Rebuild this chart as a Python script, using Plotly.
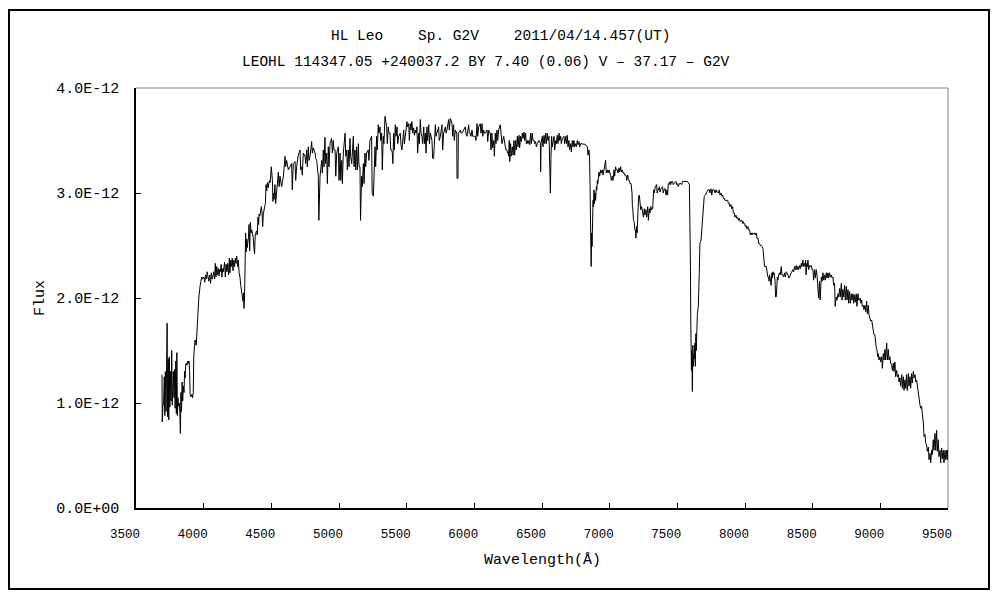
import plotly.graph_objects as go

# ---------------- data (wavelength in Angstrom, flux in units of 1E-12) ----------------
wl_a = [3692, 3694, 3699, 3704, 3709, 3713, 3717, 3722, 3726, 3730,
        3733, 3738, 3742, 3746, 3750, 3755, 3759, 3764, 3768, 3772,
        3776, 3781, 3785, 3789, 3794, 3798, 3802, 3806, 3810, 3815,
        3820, 3824, 3828, 3832, 3836, 3841, 3845, 3850, 3855, 3859,
        3863, 3867, 3872, 3877, 3882, 3887, 3892, 3896, 3900, 3906,
        3912, 3918, 3923, 3927, 3932, 3936, 3940, 3945, 3949, 3953,
        3958, 3964, 3969, 3974, 3980, 3986, 3991]
fx_a = [1.27, 0.82, 0.97, 1.00, 1.25, 0.88, 1.30, 0.92, 1.35, 1.76,
        0.87, 1.42, 0.84, 1.44, 0.96, 1.30, 1.02, 1.50, 0.98, 1.12,
        1.30, 1.05, 1.32, 0.95, 1.40, 0.90, 1.48, 0.88, 1.05, 0.97,
        1.00, 0.90, 0.71, 1.10, 0.92, 1.20, 1.02, 1.16, 1.10, 1.30,
        1.24, 1.36, 1.38, 1.36, 1.40, 1.38, 1.40, 1.30, 1.08, 1.06,
        1.08, 1.05, 1.10, 1.45, 1.52, 1.60, 1.58, 1.55, 1.62, 1.75,
        1.86, 2.00, 2.08, 2.12, 2.16, 2.20, 2.18]

wl_b = [4002, 4008, 4014, 4020, 4026, 4032, 4038, 4045, 4051, 4057,
        4063, 4069, 4075, 4081, 4086, 4091, 4097, 4103, 4109, 4114,
        4118, 4123, 4129, 4135, 4140, 4145, 4150, 4155, 4160, 4166,
        4172, 4178, 4184, 4190, 4194, 4200, 4205, 4211, 4217, 4222,
        4228, 4234, 4239, 4244, 4250, 4256, 4262, 4268, 4274, 4279,
        4284, 4290, 4294, 4298, 4302, 4306, 4310, 4314, 4318, 4322,
        4327, 4331, 4335, 4340, 4345, 4350, 4355, 4360, 4366, 4371,
        4376, 4381, 4386, 4391, 4396, 4401, 4406, 4410, 4415, 4420,
        4426, 4431, 4436, 4441, 4446, 4451, 4456, 4461, 4466, 4471,
        4476, 4481, 4486, 4491, 4496, 4500, 4504, 4508, 4512, 4516,
        4520]
fx_b = [2.20, 2.15, 2.22, 2.18, 2.25, 2.20, 2.16, 2.22, 2.14, 2.24,
        2.18, 2.21, 2.25, 2.18, 2.33, 2.20, 2.30, 2.22, 2.28, 2.21,
        2.27, 2.25, 2.32, 2.20, 2.28, 2.25, 2.30, 2.34, 2.20, 2.32,
        2.25, 2.33, 2.22, 2.38, 2.24, 2.36, 2.30, 2.38, 2.26, 2.36,
        2.30, 2.38, 2.33, 2.40, 2.30, 2.36, 2.24, 2.20, 2.12, 2.08,
        2.05, 1.97, 2.05, 1.90, 2.00, 2.24, 2.62, 2.44, 2.56, 2.48,
        2.52, 2.58, 2.70, 2.45, 2.72, 2.62, 2.65, 2.62, 2.58, 2.48,
        2.42, 2.60, 2.62, 2.64, 2.60, 2.77, 2.70, 2.80, 2.78, 2.84,
        2.87, 2.82, 2.68, 2.80, 2.86, 2.87, 2.90, 3.08, 3.02, 3.10,
        3.05, 3.08, 3.12, 3.10, 3.22, 3.25, 3.18, 3.12, 2.92, 3.00,
        2.94]

wl_c = [4527, 4532, 4540, 4545, 4552, 4557, 4564, 4576, 4589, 4601, 4606,
        4613, 4626, 4638, 4650, 4655, 4662, 4675, 4680, 4687, 4699,
        4712, 4717, 4724, 4729, 4736, 4749, 4754, 4761, 4766, 4773, 4778,
        4786, 4798, 4803, 4810, 4823, 4828, 4835, 4847, 4851, 4860,
        4872, 4877, 4884, 4889, 4896, 4901, 4909, 4914, 4921, 4926, 4934,
        4946, 4951, 4958, 4963, 4971, 4976, 4983, 4995, 5000, 5008, 5013,
        5020, 5025, 5032, 5045, 5050, 5057, 5062, 5069, 5074, 5081, 5086,
        5094, 5106, 5111, 5118, 5123, 5130, 5135, 5143, 5148, 5155, 5159,
        5167, 5172, 5180, 5185, 5192, 5197, 5204, 5216, 5221, 5229,
        5241, 5245, 5254, 5266, 5271, 5278, 5283, 5290, 5295, 5303, 5308,
        5315, 5320, 5327, 5332, 5340, 5352, 5357, 5364, 5369, 5377, 5382, 5389]
fx_c = [3.08, 2.90, 3.03, 3.12, 3.20, 3.06, 3.16, 3.06, 3.16, 3.35, 3.25,
        3.31, 3.22, 3.25, 3.28, 3.03, 3.28, 3.30, 3.12, 3.25, 3.36,
        3.41, 3.22, 3.25, 3.17, 3.38, 3.35, 3.28, 3.41, 3.25, 3.44, 3.31,
        3.35, 3.49, 3.38, 3.43, 3.38, 3.33, 3.31, 3.16, 2.74, 3.16,
        3.31, 3.19, 3.41, 3.25, 3.53, 3.28, 3.38, 3.09, 3.44, 3.25, 3.47,
        3.52, 3.38, 3.50, 3.41, 3.41, 3.16, 3.38, 3.44, 3.12, 3.38, 3.12,
        3.31, 3.09, 3.38, 3.57, 3.35, 3.41, 3.22, 3.41, 3.25, 3.52, 3.35,
        3.28, 3.54, 3.25, 3.41, 3.22, 3.44, 3.22, 3.47, 3.25, 3.25, 2.74,
        3.16, 3.06, 3.28, 3.09, 3.38, 3.25, 3.38, 3.41, 3.31, 3.50,
        3.54, 3.00, 2.97, 3.44, 3.25, 3.54, 3.41, 3.65, 3.57, 3.63, 3.50,
        3.57, 3.22, 3.54, 3.47, 3.73, 3.63, 3.47, 3.63, 3.57, 3.57, 3.41, 3.41]

wl_d = [5394, 5398, 5404, 5409, 5416, 5421, 5429, 5434, 5441, 5453, 5458,
        5465, 5478, 5483, 5490, 5502, 5507, 5515, 5520, 5527, 5532,
        5539, 5544, 5552, 5557, 5564, 5569, 5576, 5581, 5589, 5594,
        5601, 5606, 5613, 5618, 5626, 5631, 5638, 5643, 5650, 5655,
        5663, 5668, 5675, 5687, 5692, 5699, 5712, 5717, 5724,
        5736, 5741, 5749, 5761, 5766, 5773, 5786, 5791, 5798,
        5810, 5815, 5823, 5835, 5840, 5847, 5852, 5860,
        5870, 5872, 5879, 5882, 5897, 5902, 5909, 5921, 5933, 5938,
        5946, 5958, 5963, 5970, 5975, 5983, 5988, 5995, 6007, 6012,
        6020, 6025, 6032, 6044, 6049, 6057, 6062, 6069, 6074, 6081,
        6094, 6099, 6106, 6111, 6118, 6123, 6130, 6135, 6143, 6148,
        6155, 6160, 6167, 6172, 6180, 6192, 6197, 6204, 6217, 6222,
        6229, 6234, 6241, 6246, 6250, 6254]
fx_d = [3.38, 3.28, 3.57, 3.41, 3.65, 3.54, 3.63, 3.47, 3.54, 3.57, 3.46,
        3.41, 3.60, 3.47, 3.54, 3.68, 3.63, 3.66, 3.50, 3.66, 3.60,
        3.68, 3.57, 3.62, 3.55, 3.60, 3.57, 3.63, 3.38, 3.57, 3.47,
        3.70, 3.57, 3.54, 3.47, 3.63, 3.47, 3.57, 3.38, 3.63, 3.50,
        3.65, 3.47, 3.57, 3.50, 3.33, 3.33, 3.65, 3.54, 3.57,
        3.63, 3.50, 3.54, 3.65, 3.41, 3.57, 3.63, 3.57, 3.60,
        3.70, 3.60, 3.71, 3.66, 3.54, 3.65, 3.50, 3.60,
        3.57, 3.14, 3.14, 3.57, 3.60, 3.57, 3.57, 3.60, 3.63, 3.57,
        3.54, 3.65, 3.57, 3.57, 3.54, 3.60, 3.54, 3.54, 3.54, 3.50,
        3.66, 3.54, 3.63, 3.66, 3.57, 3.66, 3.54, 3.60, 3.57, 3.57,
        3.60, 3.49, 3.60, 3.57, 3.57, 3.41, 3.57, 3.43, 3.50, 3.35,
        3.57, 3.47, 3.60, 3.50, 3.60, 3.65, 3.54, 3.47, 3.54, 3.47,
        3.44, 3.41, 3.41, 3.38, 3.39, 3.35]

wl_e = [6258, 6262, 6268, 6273, 6281, 6286, 6293, 6298, 6305, 6310,
        6318, 6323, 6330, 6335, 6342, 6347, 6355, 6360, 6367, 6372,
        6379, 6384, 6391, 6396, 6404, 6409, 6416, 6421, 6428, 6433,
        6441, 6446, 6453, 6458, 6465, 6478, 6488, 6490, 6493, 6502,
        6507, 6515, 6520, 6527, 6532, 6539, 6544, 6552, 6556, 6560,
        6562, 6566, 6571, 6576, 6589, 6594, 6601, 6606, 6613, 6618,
        6626, 6631, 6638, 6643, 6650, 6662, 6667, 6675, 6680, 6687,
        6692, 6699, 6704, 6712, 6717, 6724, 6729, 6736, 6741, 6749,
        6754, 6761, 6766, 6773, 6778, 6786, 6798, 6803, 6810, 6815,
        6822, 6835, 6840, 6847, 6851, 6855, 6860, 6863, 6867, 6870,
        6877, 6880, 6884, 6888, 6892, 6896, 6902, 6905, 6909, 6913,
        6921, 6926, 6934, 6939, 6946, 6951, 6958, 6970, 6975, 6983,
        6988, 6995, 7000, 7007, 7012, 7020, 7025, 7032, 7037, 7044,
        7049, 7057, 7062, 7069, 7074, 7081, 7086, 7094, 7099, 7106,
        7111, 7118]
fx_e = [3.50, 3.30, 3.47, 3.35, 3.44, 3.36, 3.50, 3.36, 3.50, 3.41,
        3.54, 3.44, 3.55, 3.43, 3.54, 3.49, 3.57, 3.52, 3.58, 3.50,
        3.57, 3.47, 3.50, 3.47, 3.50, 3.46, 3.57, 3.47, 3.57, 3.50,
        3.50, 3.47, 3.49, 3.44, 3.47, 3.50, 3.47, 3.20, 3.47, 3.54,
        3.44, 3.55, 3.47, 3.57, 3.47, 3.57, 3.50, 3.54, 3.35, 3.33,
        3.00, 3.33, 3.54, 3.44, 3.54, 3.41, 3.50, 3.47, 3.55, 3.47,
        3.57, 3.50, 3.54, 3.47, 3.52, 3.54, 3.47, 3.54, 3.47, 3.55,
        3.44, 3.50, 3.41, 3.47, 3.39, 3.50, 3.44, 3.50, 3.44, 3.47,
        3.44, 3.50, 3.46, 3.49, 3.44, 3.47, 3.47, 3.46, 3.47, 3.46,
        3.46, 3.44, 3.36, 3.41, 3.36, 3.08, 2.60, 2.30, 2.62, 2.49,
        2.93, 2.87, 3.03, 2.90, 3.00, 2.93, 3.06, 3.03, 3.12, 3.09,
        3.20, 3.16, 3.22, 3.19, 3.22, 3.17, 3.22, 3.31, 3.19, 3.22,
        3.19, 3.22, 3.20, 3.17, 3.12, 3.16, 3.12, 3.22, 3.16, 3.25,
        3.22, 3.22, 3.19, 3.24, 3.20, 3.25, 3.20, 3.22, 3.19, 3.19,
        3.17, 3.17]

wl_f = [7121, 7126, 7133, 7138, 7145, 7150, 7158, 7162, 7165, 7168,
        7170, 7176, 7182, 7186, 7190, 7194, 7199, 7203, 7207, 7211,
        7214, 7219, 7222, 7226, 7230, 7236, 7240, 7244, 7249, 7256,
        7261, 7268, 7273, 7281, 7286, 7293, 7298, 7305, 7310, 7318,
        7325, 7330, 7337, 7347, 7351, 7359, 7363, 7367, 7372, 7379,
        7391, 7396, 7404, 7411, 7416, 7424, 7428, 7433, 7438, 7446,
        7451, 7458, 7465, 7470, 7478, 7490, 7495, 7502, 7507, 7515,
        7527, 7532, 7539, 7552, 7564, 7576, 7589, 7594, 7597, 7599,
        7601, 7604, 7607, 7611, 7615, 7618, 7623, 7626, 7630, 7633,
        7637, 7640, 7648, 7655, 7662, 7667, 7675, 7682, 7692, 7699,
        7707, 7717, 7726, 7736, 7741, 7749, 7754, 7761, 7773, 7778,
        7786, 7791, 7798, 7803, 7810, 7815, 7823, 7828, 7835, 7840,
        7847, 7852, 7860, 7872, 7877, 7884, 7889, 7896, 7901, 7909,
        7914, 7921, 7926, 7933, 7938, 7946, 7951, 7958, 7963, 7970,
        7977, 7981]
fx_f = [3.17, 3.12, 3.17, 3.14, 3.12, 3.09, 3.09, 3.06, 3.00, 2.87,
        2.87, 2.74, 2.72, 2.65, 2.65, 2.57, 2.68, 2.62, 2.84, 2.77,
        2.97, 2.98, 2.93, 2.93, 2.84, 2.87, 2.81, 2.81, 2.77, 2.85,
        2.79, 2.84, 2.77, 2.87, 2.74, 2.85, 2.81, 2.87, 2.84, 2.85,
        3.03, 3.00, 3.06, 3.08, 3.00, 3.04, 3.03, 3.06, 3.01, 3.04,
        3.06, 3.00, 3.04, 3.04, 2.98, 3.03, 2.98, 3.09, 3.08, 3.11,
        3.08, 3.11, 3.11, 3.08, 3.09, 3.11, 3.08, 3.09, 3.06, 3.09,
        3.09, 3.08, 3.11, 3.11, 3.11, 3.11, 3.08, 2.71, 2.30, 1.82,
        1.43, 1.31, 1.50, 1.11, 1.55, 1.35, 1.47, 1.42, 1.57, 1.35,
        1.66, 1.50, 1.85, 1.92, 2.24, 2.52, 2.55, 2.68, 2.90, 2.97,
        2.98, 3.01, 3.03, 3.03, 3.00, 3.04, 2.98, 3.03, 3.03, 3.00,
        3.03, 3.01, 3.01, 3.00, 3.03, 2.98, 3.00, 2.97, 2.98, 2.95,
        2.95, 2.93, 2.93, 2.93, 2.90, 2.90, 2.87, 2.89, 2.85, 2.87,
        2.81, 2.81, 2.77, 2.79, 2.76, 2.77, 2.74, 2.76, 2.73, 2.74,
        2.74, 2.71]

wl_g = [7986, 7990, 7997, 8002, 8010, 8015, 8022, 8027, 8034, 8039,
        8047, 8052, 8059, 8064, 8071, 8076, 8083, 8088, 8096, 8101,
        8108, 8113, 8120, 8125, 8133, 8138, 8145, 8157, 8161, 8165,
        8169, 8175, 8178, 8182, 8185, 8189, 8193, 8199, 8203, 8207,
        8211, 8214, 8218, 8222, 8226, 8231, 8239, 8243, 8249, 8256,
        8260, 8268, 8273, 8281, 8286, 8293, 8298, 8305, 8310, 8318,
        8323, 8330, 8342, 8354, 8359, 8367, 8372, 8379, 8384, 8391,
        8396, 8404, 8409, 8416, 8421, 8428, 8433, 8441, 8445, 8448,
        8451, 8458, 8462, 8465, 8470, 8478, 8483, 8490, 8495, 8502,
        8507, 8515, 8520, 8527, 8532, 8539, 8544, 8551, 8555, 8564,
        8569, 8576, 8581, 8588, 8593, 8601, 8606, 8613, 8618, 8625,
        8630, 8638, 8643, 8650, 8655, 8662, 8666, 8675, 8680, 8687,
        8692, 8699, 8704, 8712, 8717, 8724, 8729, 8736, 8741, 8749,
        8754, 8761, 8766, 8773, 8778, 8786, 8791, 8798, 8803, 8810,
        8815, 8822, 8827, 8835, 8840, 8847]
fx_g = [2.73, 2.71, 2.71, 2.68, 2.69, 2.66, 2.68, 2.65, 2.65, 2.60,
        2.62, 2.60, 2.62, 2.61, 2.62, 2.60, 2.62, 2.57, 2.57, 2.52,
        2.52, 2.50, 2.50, 2.49, 2.47, 2.39, 2.30, 2.30, 2.24, 2.24,
        2.20, 2.20, 2.16, 2.22, 2.17, 2.17, 2.12, 2.24, 2.19, 2.25,
        2.22, 2.24, 2.19, 2.17, 2.01, 2.01, 2.20, 2.17, 2.22, 2.24,
        2.22, 2.30, 2.22, 2.22, 2.20, 2.24, 2.20, 2.25, 2.24, 2.22,
        2.19, 2.20, 2.24, 2.27, 2.25, 2.30, 2.27, 2.31, 2.27, 2.30,
        2.27, 2.31, 2.28, 2.33, 2.30, 2.36, 2.30, 2.33, 2.30, 2.36,
        2.22, 2.33, 2.30, 2.36, 2.27, 2.31, 2.30, 2.31, 2.27, 2.27,
        2.17, 2.27, 2.19, 2.27, 2.22, 2.09, 2.00, 2.16, 1.98, 2.20,
        2.16, 2.24, 2.17, 2.22, 2.17, 2.24, 2.19, 2.24, 2.19, 2.24,
        2.20, 2.22, 2.19, 2.20, 2.12, 2.14, 1.92, 2.01, 1.98, 2.04,
        2.01, 2.09, 2.01, 2.14, 1.98, 2.08, 2.01, 2.12, 1.98, 2.11,
        1.98, 2.08, 1.95, 2.06, 1.95, 2.04, 1.98, 2.04, 1.95, 2.03,
        1.96, 2.04, 1.92, 2.04, 1.98, 1.98]

wl_h = [8852, 8856, 8862, 8867, 8874, 8879, 8887, 8892, 8899, 8904,
        8911, 8916, 8924, 8929, 8936, 8941, 8948, 8953, 8960, 8964,
        8968, 8971, 8975, 8980, 8985, 8990, 8997, 9002, 9010, 9015,
        9022, 9027, 9034, 9039, 9047, 9052, 9059, 9064, 9071, 9076,
        9084, 9089, 9096, 9101, 9108, 9113, 9121, 9126, 9133, 9138,
        9145, 9150, 9158, 9163, 9170, 9175, 9182, 9187, 9194, 9199,
        9207, 9212, 9219, 9224, 9231, 9236, 9244, 9249, 9256, 9261,
        9268, 9273, 9281, 9286, 9293, 9298, 9305, 9310, 9318, 9323,
        9330, 9335, 9342, 9347, 9355, 9360, 9367, 9372, 9379, 9384,
        9391, 9396, 9404, 9409, 9416, 9421, 9428, 9433, 9441, 9446,
        9453, 9458, 9465, 9470, 9478, 9483, 9490, 9494, 9498, 9500]
fx_h = [2.00, 1.95, 1.98, 1.92, 1.93, 1.89, 1.93, 1.87, 1.97, 1.85,
        1.93, 1.84, 1.81, 1.78, 1.79, 1.74, 1.70, 1.65, 1.65, 1.57,
        1.57, 1.51, 1.51, 1.44, 1.47, 1.41, 1.44, 1.39, 1.44, 1.33,
        1.47, 1.41, 1.51, 1.41, 1.57, 1.41, 1.51, 1.41, 1.44, 1.38,
        1.36, 1.31, 1.38, 1.30, 1.39, 1.25, 1.31, 1.25, 1.27, 1.20,
        1.24, 1.16, 1.27, 1.14, 1.25, 1.12, 1.22, 1.14, 1.27, 1.12,
        1.28, 1.16, 1.25, 1.14, 1.28, 1.19, 1.30, 1.24, 1.27, 1.20,
        1.22, 1.16, 1.09, 1.00, 0.98, 0.95, 0.97, 0.90, 0.81, 0.68,
        0.70, 0.62, 0.60, 0.54, 0.58, 0.46, 0.52, 0.43, 0.55, 0.51,
        0.65, 0.55, 0.71, 0.55, 0.74, 0.54, 0.65, 0.49, 0.55, 0.43,
        0.57, 0.47, 0.55, 0.43, 0.55, 0.46, 0.55, 0.46, 0.55, 0.49]

y_tick_vals = [0.0, 1e-12, 2e-12, 3e-12, 4e-12]
y_tick_text = ["0.0E+00", "1.0E-12", "2.0E-12", "3.0E-12", "4.0E-12"]
x_tick_vals = [3500, 4000, 4500, 5000, 5500, 6000, 6500, 7000, 7500, 8000, 8500, 9000, 9500]

title_1 = "HL Leo\u00a0\u00a0\u00a0\u00a0Sp. G2V\u00a0\u00a0\u00a0\u00a02011/04/14.457(UT)"
title_2 = "LEOHL 114347.05 +240037.2 BY 7.40 (0.06) V \u2013 37.17 \u2013 G2V"

# ---------------- build ----------------
wavelength = wl_a + wl_b + wl_c + wl_d + wl_e + wl_f + wl_g + wl_h
flux = [v * 1e-12 for v in (fx_a + fx_b + fx_c + fx_d + fx_e + fx_f + fx_g + fx_h)]

FONT = "Liberation Mono"
OFF = 8  # page offset of the figure inside the browser page
W, H = 1000 - OFF, 600 - OFF
# plot area in page pixels: x 136..948, y 88..508
L, T = 136 - OFF, 88 - OFF
R, B = W - (948 - OFF), H - (508 - OFF)
pw, ph = W - L - R, H - T - B

def px(x):
    return (x - OFF - L) / pw

def py(y):
    return (H - B - (y - OFF)) / ph

fig = go.Figure()
fig.add_trace(go.Scatter(x=wavelength, y=flux, mode="lines",
                         line=dict(color="black", width=1), hoverinfo="skip"))

fig.update_layout(
    width=W, height=H,
    margin=dict(l=L, r=R, t=T, b=B),
    paper_bgcolor="white", plot_bgcolor="white",
    showlegend=False,
    font=dict(family=FONT, size=14, color="black"),
    xaxis=dict(range=[3500, 9500], tickvals=x_tick_vals, ticks="inside", ticklen=5,
               tickcolor="black", tickwidth=1, showline=True, linecolor="black",
               linewidth=1.5, showgrid=False, zeroline=False,
               tickfont=dict(family=FONT, size=12.5), ticklabelstandoff=13,
               ticklabelshift=-11),
    yaxis=dict(range=[0, 4e-12], tickvals=y_tick_vals, ticktext=y_tick_text,
               ticks="inside", ticklen=5, tickcolor="black", tickwidth=1,
               showline=True, linecolor="black", linewidth=1.5, showgrid=False,
               zeroline=False, tickfont=dict(family=FONT, size=15),
               ticklabelstandoff=12),
)

# grey top/right frame of plot area
fig.add_shape(type="line", xref="paper", yref="paper", x0=0, x1=1, y0=1, y1=1,
              line=dict(color="#808080", width=1), layer="below")
fig.add_shape(type="line", xref="paper", yref="paper", x0=1, x1=1, y0=0, y1=1,
              line=dict(color="#808080", width=1), layer="below")
# outer chart frame
fig.add_shape(type="rect", xref="paper", yref="paper",
              x0=px(OFF + 1), x1=px(989), y0=py(589), y1=py(10),
              line=dict(color="black", width=2), fillcolor="rgba(0,0,0,0)")

fig.add_annotation(text=title_1, xref="paper", yref="paper", x=px(500), y=py(36),
                   showarrow=False, font=dict(family=FONT, size=14.5),
                   xanchor="center", yanchor="middle")
fig.add_annotation(text=title_2, xref="paper", yref="paper", x=px(486), y=py(62),
                   showarrow=False, font=dict(family=FONT, size=14.5),
                   xanchor="center", yanchor="middle")
fig.add_annotation(text="Wavelength(\u00c5)", xref="paper", yref="paper", x=px(542), y=py(560),
                   showarrow=False, font=dict(family=FONT, size=15),
                   xanchor="center", yanchor="middle")
fig.add_annotation(text="Flux", xref="paper", yref="paper", x=px(40), y=py(298),
                   showarrow=False, textangle=-90, font=dict(family=FONT, size=15),
                   xanchor="center", yanchor="middle")

fig.write_html("out.html")
